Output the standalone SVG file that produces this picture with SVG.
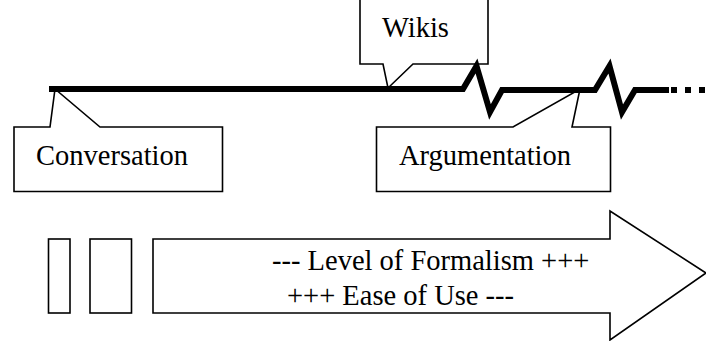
<svg xmlns="http://www.w3.org/2000/svg" width="706" height="341" viewBox="0 0 706 341">
<style>
.shape{fill:#fff;stroke:#000;stroke-width:1.6;stroke-linejoin:miter}
.thick{fill:none;stroke:#000;stroke-width:6;stroke-linejoin:miter;stroke-miterlimit:10}
</style>
<rect width="706" height="341" fill="#fff"/>
<g font-family="Liberation Serif, Times New Roman, serif" font-size="28.5" fill="#000">
<g id="wikis">
<path class="shape" d="M360,-3 L360,64 L383,64 L388,88 L413,64 L488,64 L488,-3"/>
<text x="382" y="37">Wikis</text>
</g>
<g id="conversation">
<path class="shape" d="M14,127 L50,127 L55,89 L100,127 L222.5,127 L222.5,191.5 L14,191.5 Z"/>
<text x="36" y="165">Conversation</text>
</g>
<g id="argumentation">
<path class="shape" d="M376.5,127 L513,127 L580,89 L572,127 L610.5,127 L610.5,191.5 L376.5,191.5 Z"/>
<text x="399" y="165">Argumentation</text>
</g>
<g id="connectors">
<path class="thick" d="M49,89 L463,89 L476.5,66 L490,112 L502,90 L595,90 L609.5,66 L622,112 L635,90 L669,90"/>
<path class="thick" d="M671,90 L706,90" stroke-dasharray="6 8"/>
</g>
<g id="bar1"><rect class="shape" x="48.5" y="239" width="21.5" height="74"/></g>
<g id="bar2"><rect class="shape" x="90" y="239" width="41.5" height="74"/></g>
<g id="arrow">
<path class="shape" d="M153,239 L610,239 L610,211 L706,273 L610,340 L610,313 L153,313 Z"/>
<text x="272" y="270">--- Level of Formalism +++</text>
<text x="287" y="305">+++ Ease of Use ---</text>
</g>
</g>
</svg>
